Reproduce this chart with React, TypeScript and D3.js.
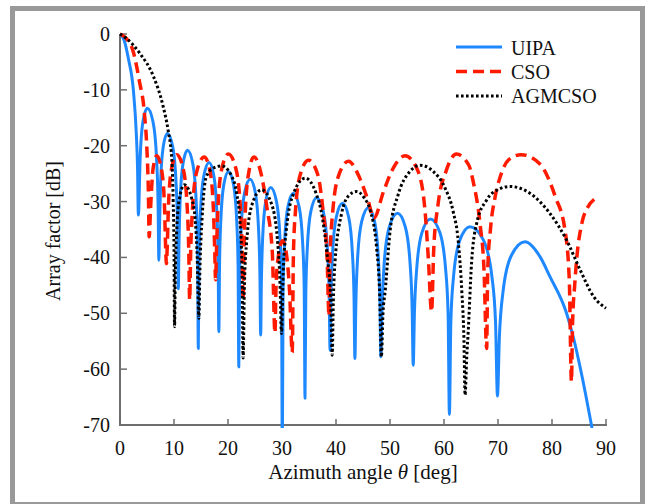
import React from 'react';
import * as d3 from 'd3';

const X_TICKS = [0, 10, 20, 30, 40, 50, 60, 70, 80, 90];
const Y_TICKS = [0, -10, -20, -30, -40, -50, -60, -70];
const SERIES_NAMES = ['UIPA', 'CSO', 'AGMCSO'];

const UIPA: [number, number][] = [
  [0, 0], [0.8, -1.2], [1.55, -4.4], [2.5, -10.3], [3.0, -17.5], [3.25, -24], [3.4, -32.4],
  [3.73, -22.3], [4.23, -15.8], [5.06, -13.3], [6.13, -15.8], [6.77, -22.3], [7.05, -30.3], [7.2, -40.5],
  [7.31, -34.8], [7.51, -26.8], [7.99, -20.3], [8.77, -17.8], [9.79, -20.3], [10.39, -26.8], [10.66, -34.8], [10.8, -45.6],
  [10.92, -37.8], [11.14, -29.8], [11.65, -23.3], [12.5, -20.8], [13.5, -23.3], [14.1, -29.8], [14.36, -37.8], [14.5, -56.3],
  [14.64, -40], [14.9, -32], [15.5, -25.5], [16.5, -23], [17.4, -25.5], [17.94, -32], [18.17, -40], [18.3, -53.3],
  [18.43, -41.6], [18.66, -33.6], [19.2, -27.1], [20.1, -24.6], [21.05, -27.1], [21.62, -33.6], [21.87, -41.6], [22.0, -59.6],
  [22.15, -43], [22.42, -35], [23.05, -28.5], [24.1, -26], [25.08, -28.5], [25.66, -35], [25.91, -43], [26.05, -53.9],
  [26.18, -44.5], [26.42, -36.5], [26.98, -30], [27.9, -27.5], [28.98, -30], [29.63, -36.5], [29.91, -44.5], [30.06, -76],
  [30.2, -45.5], [30.47, -37.5], [31.08, -31], [32.1, -28.5], [33.18, -31], [33.83, -37.5], [34.11, -45.5], [34.26, -65.2],
  [34.41, -46.3], [34.69, -38.3], [35.33, -31.8], [36.4, -29.3], [37.65, -31.8], [38.4, -38.3], [38.73, -46.3], [38.9, -56.6],
  [39.06, -47.3], [39.36, -39.3], [40.05, -32.8], [41.2, -30.3], [42.35, -32.8], [43.04, -39.3], [43.34, -47.3], [43.5, -58.1],
  [43.68, -48.1], [44.0, -40.1], [44.75, -33.6], [46.0, -31.1], [47.15, -33.6], [47.84, -40.1], [48.14, -48.1], [48.3, -57.8],
  [48.52, -49.1], [48.92, -41.1], [49.85, -34.6], [51.4, -32.1], [52.85, -34.6], [53.72, -41.1], [54.1, -49.1], [54.3, -59.3],
  [54.52, -50.1], [54.94, -42.1], [55.9, -35.6], [57.5, -33.1], [59.25, -35.6], [60.3, -42.1], [60.76, -50.1], [61.0, -68.1],
  [61.27, -51.5], [61.76, -43.5], [62.9, -37], [64.8, -34.5], [67.35, -37], [68.88, -43.5], [69.54, -51.5], [69.9, -64.8],
  [70.26, -54.2], [70.92, -46.2], [72.45, -39.7], [75, -37.2], [77.8, -39.9], [79.6, -43.4], [82.7, -50], [84, -54.5],
  [85.5, -61], [87.3, -70], [89, -79], [90, -84],
];

const CSO: [number, number][] = [
  [0, 0], [1.5, -1.2], [2.4, -3], [3.6, -8.5], [4.5, -14], [5.0, -21], [5.25, -28], [5.4, -36.3],
  [5.68, -30.8], [6.1, -24.3], [6.8, -21.8], [7.7, -24.3], [8.24, -30.8], [8.47, -38.8], [8.6, -41.1],
  [8.73, -38.6], [8.98, -30.6], [9.55, -24.1], [10.5, -21.6], [11.7, -24.1], [12.42, -30.6], [12.73, -38.6], [12.9, -47.6],
  [13.09, -39], [13.44, -31], [14.25, -24.5], [15.6, -22], [16.65, -24.5], [17.28, -31], [17.55, -39], [17.7, -44],
  [17.87, -38.5], [18.17, -30.5], [18.88, -24], [20.06, -21.5], [21.43, -24], [22.25, -30.5], [22.61, -38.5], [22.8, -47.6],
  [22.95, -39], [23.24, -31], [23.9, -24.5], [24.8, -22], [26.0, -24.5], [27.2, -31], [28.2, -39], [28.7, -53.5],
  [28.9, -45], [29.3, -40], [30.1, -37], [30.9, -40], [31.4, -46], [31.9, -57],
  [32.11, -39.6], [32.5, -31.6], [33.4, -25.1], [34.9, -22.6], [36.6, -25.1], [37.6, -31.6], [38.35, -40], [38.7, -50.5],
  [38.9, -39.8], [39.4, -31.8], [40.5, -25.3], [42.3, -22.8], [44.4, -25.8], [46.0, -30], [47.0, -33],
  [48.8, -28.2], [50.6, -24], [52.8, -21.8], [55.2, -24.6], [56.5, -31.8], [57.1, -40.2], [57.7, -49.7],
  [58.1, -38.5], [58.9, -30.5], [60.4, -24.5], [62.3, -21.5], [64.6, -23.5], [65.4, -26.4], [66.7, -34.2], [67.4, -42], [67.9, -56.3],
  [68.1, -42], [68.6, -35], [69.5, -29], [70.4, -25.6], [72, -22.5], [74.3, -21.6], [77.8, -23.3], [80.6, -29.1], [82.4, -35.1], [83.2, -44], [83.6, -62.2],
  [83.8, -52], [84.2, -45], [84.6, -40], [85.5, -34], [86.5, -31.2], [88.7, -29.1],
];

const AGMCSO: [number, number][] = [
  [0, 0], [1.2, -0.8], [3.7, -3.5], [6.2, -7.6], [8.0, -13], [8.9, -17.2], [9.6, -22.6], [9.85, -30], [10.0, -38], [10.1, -52.4],
  [10.23, -44], [10.46, -36], [11.0, -29.5], [11.9, -27], [13.3, -29.5], [13.9, -33], [14.3, -40], [14.6, -50.9],
  [14.8, -42], [15.2, -33], [16.0, -25.5], [17.3, -24], [18.8, -23.6], [20.7, -25.5], [21.6, -28.5], [22.2, -33.3], [22.6, -42], [22.8, -58],
  [23.04, -44.9], [23.48, -36.9], [24.5, -30.4], [26.2, -27.9], [28.05, -30.4], [29.16, -36.9], [29.64, -44.9], [29.9, -53.6],
  [30.22, -42.9], [30.82, -34.9], [32.2, -28.4], [34.3, -25.8], [36.3, -28.5], [37.5, -33], [38.4, -40], [39.0, -47], [39.3, -57.5],
  [39.5, -48], [39.8, -41], [41.05, -32.1], [42.3, -29], [43.8, -28.2], [45.2, -29.3], [46.3, -31.5], [47.5, -38.1], [48.1, -47], [48.4, -57.8],
  [48.7, -50], [49.1, -46.1], [50.0, -35.4], [51.5, -28.8], [53.7, -24.6], [55.6, -23.5], [58.0, -24.6], [60.2, -27.6], [61.7, -31.8],
  [62.65, -37.2], [63.3, -46.1], [63.7, -55], [63.9, -64.6],
  [64.2, -58], [64.5, -53], [65.1, -41], [66.05, -33.9], [67.9, -29.7], [70.1, -27.8], [72.2, -27.3], [75.9, -28.5], [79.6, -32.1],
  [82.7, -36.9], [85.2, -42.2], [87.7, -47], [90, -49.1],
];

const FONT = "'Liberation Serif', 'Times New Roman', serif";

export default function App() {
  const W = 645;
  const H = 504;
  const x = d3.scaleLinear().domain([0, 90]).range([120, 606]);
  const y = d3.scaleLinear().domain([-70, 0]).range([425, 34]);
  const line = d3
    .line<[number, number]>()
    .x((d) => x(d[0]))
    .y((d) => y(d[1]))
    .curve(d3.curveMonotoneX);

  const styles = [
    { color: '#1e88ff', width: 3, dash: undefined as string | undefined },
    { color: '#ff1a00', width: 3.5, dash: '11,6' },
    { color: '#000000', width: 3, dash: '2.6,2.4' },
  ];
  const data = [UIPA, CSO, AGMCSO];
  const axisColor = '#6e6e6e';

  return (
    <svg
      width={W}
      height={H}
      style={{ position: 'absolute', left: 0, top: 0, display: 'block', background: '#fff' }}
      fontFamily={FONT}
    >
      <defs>
        <clipPath id="plotClip">
          <rect x={118} y={20} width={495} height={408} />
        </clipPath>
      </defs>
      <rect x={0} y={0} width={W} height={H} fill="#fff" />
      <rect x={12.5} y={8.5} width={630} height={496} fill="none" stroke="#999999" strokeWidth={5} />

      {/* axes */}
      <line x1={x(0)} x2={x(0)} y1={y(0)} y2={y(-70)} stroke={axisColor} strokeWidth={2} />
      <line x1={x(0) - 1} x2={x(90) + 1} y1={y(-70)} y2={y(-70)} stroke={axisColor} strokeWidth={2} />
      {Y_TICKS.map((t) => (
        <g key={'y' + t}>
          <line x1={x(0)} x2={x(0) + 7} y1={y(t)} y2={y(t)} stroke={axisColor} strokeWidth={1.5} />
          <text x={110} y={y(t)} dy="0.35em" textAnchor="end" fontSize={20} fill="#111">
            {t}
          </text>
        </g>
      ))}
      {X_TICKS.map((t) => (
        <g key={'x' + t}>
          <line x1={x(t)} x2={x(t)} y1={y(-70)} y2={y(-70) - 6} stroke={axisColor} strokeWidth={1.5} />
          <text x={x(t)} y={455} textAnchor="middle" fontSize={20} fill="#111">
            {t}
          </text>
        </g>
      ))}

      <text x={363} y={479} textAnchor="middle" fontSize={21} fill="#111">
        Azimuth angle <tspan fontStyle="italic">θ</tspan> [deg]
      </text>
      <text
        transform={`translate(53,231) rotate(-90)`}
        textAnchor="middle"
        dy="0.35em"
        fontSize={20}
        fill="#111"
      >
        Array factor [dB]
      </text>

      <g clipPath="url(#plotClip)">
        {data.map((d, i) => (
          <path
            key={SERIES_NAMES[i]}
            d={line(d) || ''}
            fill="none"
            stroke={styles[i].color}
            strokeWidth={styles[i].width}
            strokeDasharray={styles[i].dash}
            strokeLinejoin="round"
          />
        ))}
      </g>

      {/* legend */}
      {SERIES_NAMES.map((name, i) => (
        <g key={'leg' + name}>
          <line
            x1={456}
            x2={502}
            y1={47 + i * 24.5}
            y2={47 + i * 24.5}
            stroke={styles[i].color}
            strokeWidth={styles[i].width}
            strokeDasharray={styles[i].dash}
          />
          <text x={511} y={54.5 + i * 24.3} fontSize={20} fill="#111">
            {name}
          </text>
        </g>
      ))}
    </svg>
  );
}
